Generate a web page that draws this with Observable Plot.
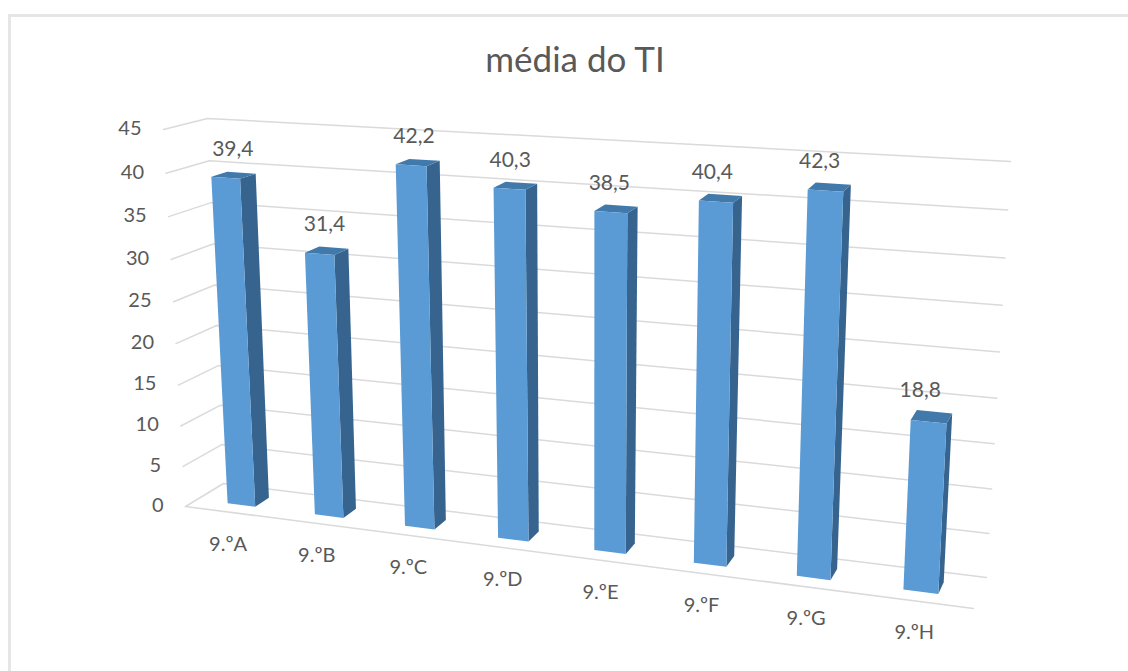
<!DOCTYPE html>
<html lang="pt">
<head>
<meta charset="utf-8">
<title>média do TI</title>
<script src="https://cdn.jsdelivr.net/npm/d3@7"></script>
<script src="https://cdn.jsdelivr.net/npm/@observablehq/plot@0.6"></script>
<style>
  html, body { margin: 0; background: #fff; }
  #stage { position: relative; width: 1128px; height: 671px; overflow: hidden; }
  #frame { position: absolute; left: 8px; top: 14px; right: -10px; bottom: -10px;
           border-left: 3px solid #e6e6e6; border-top: 3px solid #e6e6e6; }
  #title { position: absolute; left: 0; width: 1150px; top: 37px; text-align: center;
           font: 35px Lato, sans-serif; color: #595959; }
  #chart { position: absolute; left: 0; top: 0; }
  svg { display: block; }
</style>
</head>
<body>
<div id="stage">
  <div id="frame"></div>
  <div id="chart"></div>
  <div id="title">média do TI</div>
</div>
<script>
const categories = ["9.ºA", "9.ºB", "9.ºC", "9.ºD", "9.ºE", "9.ºF", "9.ºG", "9.ºH"];
const values = [39.4, 31.4, 42.2, 40.3, 38.5, 40.4, 42.3, 18.8];
const valueTicks = [0, 5, 10, 15, 20, 25, 30, 35, 40, 45];

// Corners of the chart box on screen: bottom-left, bottom-right, top-right, top-left
const frontPlane = [[185, 506], [973, 608], [995, 180], [163, 129]];
const backPlane = [[223, 483], [986, 577], [1010, 161], [207, 118]];
const barDepth = [0.31, 0.69];

// Homography taking the unit square onto a quadrilateral
function homography([[x0, y0], [x1, y1], [x2, y2], [x3, y3]]) {
  const sx = x0 - x1 + x2 - x3, sy = y0 - y1 + y2 - y3;
  const dx1 = x1 - x2, dx2 = x3 - x2, dy1 = y1 - y2, dy2 = y3 - y2;
  const den = dx1 * dy2 - dx2 * dy1;
  const g = (sx * dy2 - dx2 * sy) / den, h = (dx1 * sy - sx * dy1) / den;
  const a = x1 - x0 + g * x1, b = x3 - x0 + h * x3;
  const d = y1 - y0 + g * y1, e = y3 - y0 + h * y3;
  return (u, v) => {
    const q = g * u + h * v + 1;
    return [(a * u + b * v + x0) / q, (d * u + e * v + y0) / q];
  };
}
const front = homography(frontPlane), back = homography(backPlane);

// Box coordinates (u across, v up, w into the page) to screen position
function project(u, v, w) {
  const [fx, fy] = front(u, v), [bx, by] = back(u, v);
  return [fx + (bx - fx) * w, fy + (by - fy) * w];
}

const catScale = Plot.scale({x: {type: "band", domain: categories, range: [0, 1], paddingInner: 0.68, paddingOuter: 0.355}});
const valScale = Plot.scale({y: {type: "linear", domain: [0, 45], range: [0, 1]}});
const band = catScale.bandwidth;

// Polygons for the three visible faces of each bar
const [w0, w1] = barDepth;
const corners = (c, v) => {
  const u0 = catScale.apply(c), u1 = u0 + band, t = valScale.apply(v);
  return {u0, u1, t};
};
const face = (cat, pts) => pts.map(([u, v, w]) => {
  const [x, y] = project(u, v, w);
  return {cat, x, y};
});
const frontFaces = [], sideFaces = [], topFaces = [];
categories.forEach((c, i) => {
  const {u0, u1, t} = corners(c, values[i]);
  frontFaces.push(...face(c, [[u0, 0, w0], [u1, 0, w0], [u1, t, w0], [u0, t, w0]]));
  sideFaces.push(...face(c, [[u1, 0, w0], [u1, 0, w1], [u1, t, w1], [u1, t, w0]]));
  topFaces.push(...face(c, [[u0, t, w0], [u1, t, w0], [u1, t, w1], [u0, t, w1]]));
});

// Gridlines run along the left wall, then across the back wall
const grid = valueTicks.flatMap((tick) => {
  const t = valScale.apply(tick);
  return [[0, t, 0], [0, t, 1], [1, t, 1]].map(([u, v, w]) => {
    const [x, y] = project(u, v, w);
    return {tick, x, y};
  });
});
const floorEdge = [[0, 0, 0], [1, 0, 0]].map(([u, v, w]) => {
  const [x, y] = project(u, v, w);
  return {x, y};
});

const tickLabels = valueTicks.map((tick) => {
  const [x, y] = project(0, valScale.apply(tick), 0);
  return {label: String(tick), x: x - 22, y: y - 1};
});
const categoryLabels = categories.map((c) => {
  const [x, y] = project(catScale.apply(c) + band / 2, 0, 0);
  return {label: c, x: x - 2, y: y + 32};
});
// Value labels drift left of their bars towards the far end of the axis
const valueLabels = categories.map((c, i) => {
  const {u0, u1, t} = corners(c, values[i]);
  const u = (u0 + u1) / 2;
  const [x, y] = project(u, t, (w0 + w1) / 2);
  return {label: String(values[i]).replace(".", ","), x: x - 12 * u, y: y - 26};
});

const textStyle = {x: "x", y: "y", text: "label", fill: "#595959", fontFamily: "Lato, sans-serif"};

const plot = Plot.plot({
  width: 1128,
  height: 671,
  margin: 0,
  style: {background: "transparent", overflow: "visible"},
  x: {type: "identity", axis: null},
  y: {type: "identity", axis: null},
  marks: [
    Plot.line(grid, {x: "x", y: "y", z: "tick", stroke: "#dadada", strokeWidth: 1.5}),
    Plot.line(floorEdge, {x: "x", y: "y", stroke: "#dadada", strokeWidth: 1.5}),
    Plot.line(sideFaces, {x: "x", y: "y", z: "cat", fill: "#36648f", stroke: "none"}),
    Plot.line(topFaces, {x: "x", y: "y", z: "cat", fill: "#4279ab", stroke: "none"}),
    Plot.line(frontFaces, {x: "x", y: "y", z: "cat", fill: "#5b9bd5", stroke: "none"}),
    Plot.text(tickLabels, {...textStyle, fontSize: 20, textAnchor: "end"}),
    Plot.text(categoryLabels, {...textStyle, fontSize: 20}),
    Plot.text(valueLabels, {...textStyle, fontSize: 21})
  ]
});
document.getElementById("chart").append(plot);
</script>
</body>
</html>
